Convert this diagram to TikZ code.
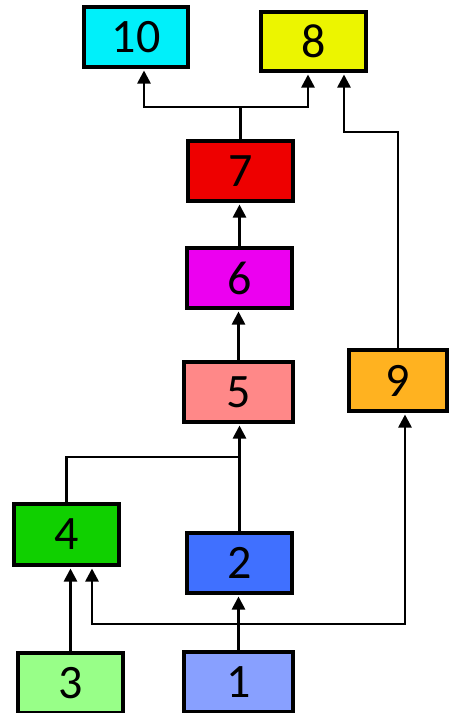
\documentclass[tikz,border=0pt]{standalone}
\usepackage{fontspec}
\setmainfont{Carlito}
\usetikzlibrary{arrows.meta}
\definecolor{c10}{RGB}{0,240,250}
\definecolor{c8}{RGB}{236,245,0}
\definecolor{c7}{RGB}{238,0,0}
\definecolor{c6}{RGB}{236,0,240}
\definecolor{c5}{RGB}{255,136,136}
\definecolor{c9}{RGB}{255,178,32}
\definecolor{c4}{RGB}{16,208,0}
\definecolor{c2}{RGB}{64,112,255}
\definecolor{c3}{RGB}{152,255,136}
\definecolor{c1}{RGB}{136,160,255}
\tikzset{
  box/.style={draw=black, line width=4pt, inner sep=0pt, minimum height=60pt,
    font=\fontsize{48}{48}\selectfont},
  conn/.style={line width=2.6pt},
  arr/.style={conn, -{Triangle[length=13pt,width=13pt]}, shorten >=1.5pt}
}
\begin{document}
\begin{tikzpicture}[x=1pt,y=-1pt]
\useasboundingbox (0,0) rectangle (449,713);
\node[box, fill=c10, minimum width=104pt] (n10) at (136,37) {10};
\node[box, fill=c8, minimum width=105pt, minimum height=59pt] (n8) at (313.5,41.5) {8};
\node[box, fill=c7, minimum width=105pt] (n7) at (240.5,171) {7};
\node[box, fill=c6, minimum width=105pt] (n6) at (239.5,278) {6};
\node[box, fill=c5, minimum width=109pt] (n5) at (238.5,392) {5};
\node[box, fill=c9, minimum width=98pt, minimum height=61pt] (n9) at (398,380.5) {9};
\node[box, fill=c4, minimum width=105pt, minimum height=61pt] (n4) at (66.5,534.5) {4};
\node[box, fill=c2, minimum width=105pt] (n2) at (239.5,563) {2};
\node[box, fill=c3, minimum width=105pt] (n3) at (70.5,683) {3};
\node[box, fill=c1, minimum width=109pt] (n1) at (238.5,682) {1};
\coordinate (a10) at (144,107);
\coordinate (a8) at (308,107);
\coordinate (b8) at (344,132);
\coordinate (j4) at (239,457);
\coordinate (j1) at (240,624);
\coordinate (l4) at (92,624);
\coordinate (r9) at (405,624);
\draw[arr] (n7.north) |- (a10) -- (a10 |- n10.south);
\draw[arr] (n7.north) |- (a8) -- (a8 |- n8.south);
\draw[arr] (n9.north) |- (b8) -- (b8 |- n8.south);
\draw[arr] (n6.north) -- (n6.north |- n7.south);
\draw[arr] (n5.north) -- (n5.north |- n6.south);
\draw[arr] (n2.north) -- (n2.north |- n5.south);
\draw[conn] (n4.north) |- (j4);
\draw[arr] (n1.north) -- (n1.north |- n2.south);
\draw[arr] (j1) -- (l4) -- (l4 |- n4.south);
\draw[arr] (j1) -- (r9) -- (r9 |- n9.south);
\draw[arr] (n3.north) -- (n3.north |- n4.south);
\end{tikzpicture}
\end{document}
